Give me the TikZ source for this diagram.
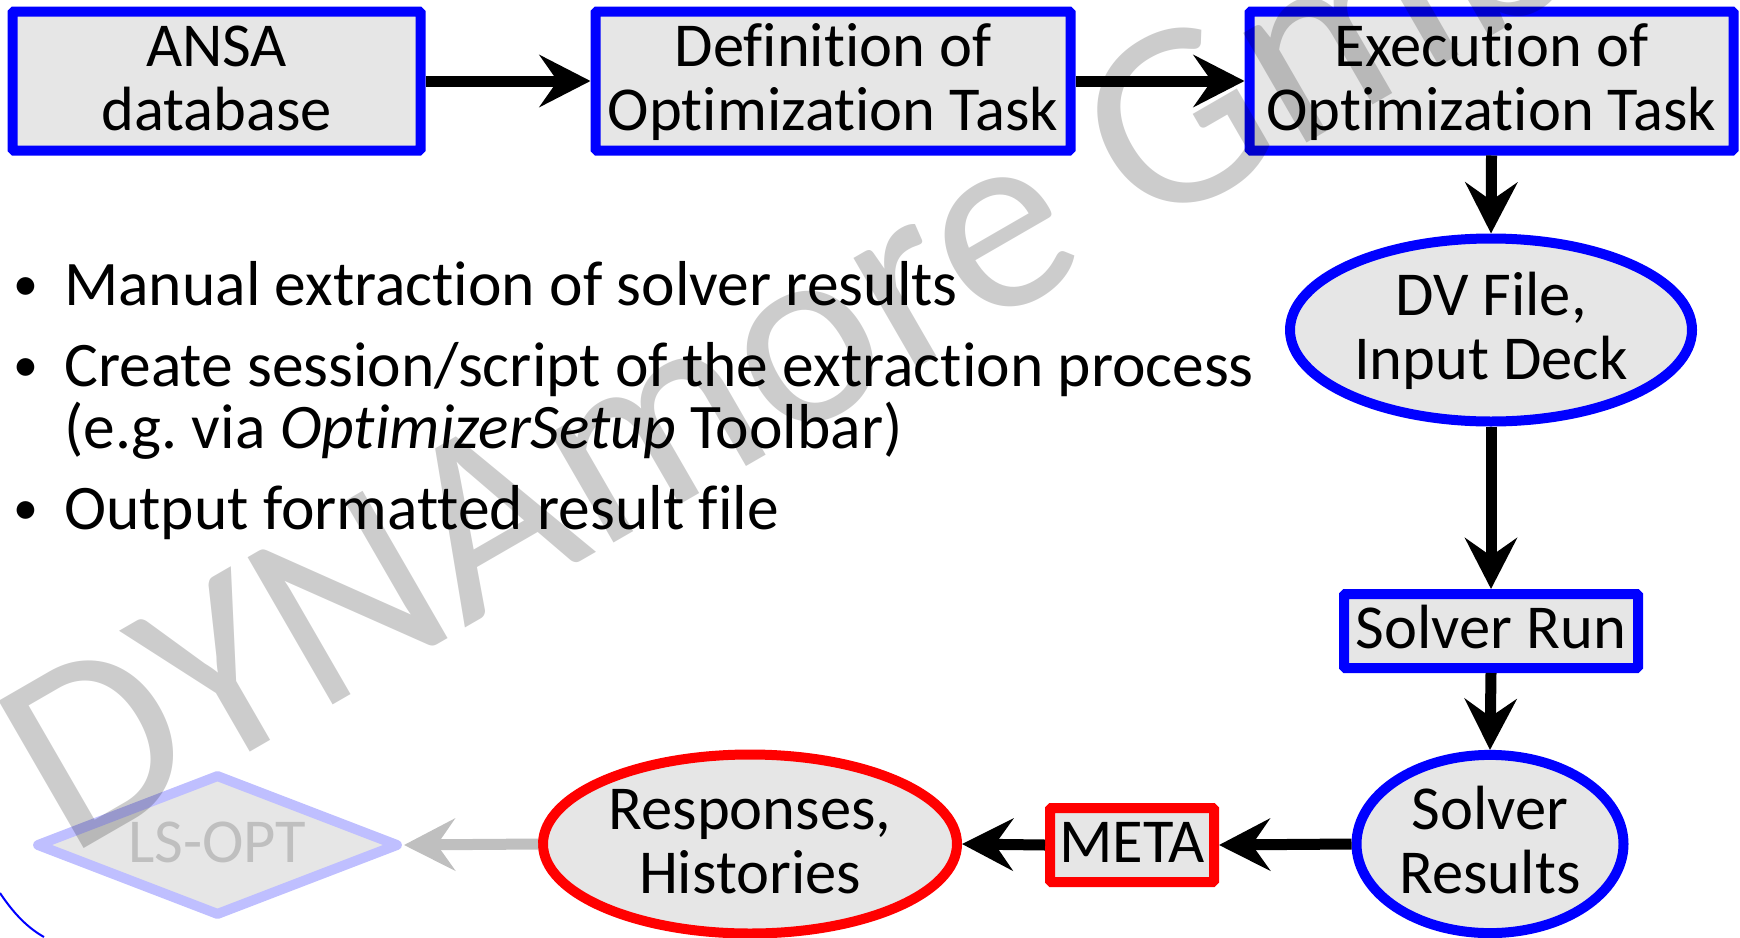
\documentclass[tikz,border=0pt]{standalone}
\usepackage{fontspec}
\setmainfont{Carlito}[Ligatures=NoCommon]
\usetikzlibrary{shapes.geometric,arrows.meta}
\definecolor{boxfill}{RGB}{230,230,230}
\definecolor{bblue}{RGB}{0,0,255}
\definecolor{bred}{RGB}{255,0,0}
\definecolor{lblue}{RGB}{191,191,255}
\definecolor{lgray}{RGB}{191,191,191}
\newcommand{\fs}{\rule{0pt}{48pt}}
\newcommand{\bul}{\raisebox{5pt}{\fontsize{50}{50}\selectfont •}}
\frenchspacing
\begin{document}
\begin{tikzpicture}[x=1pt,y=-1pt,
  nodebase/.style={font=\fontsize{62.5}{64}\selectfont, align=center, text depth=14pt, inner sep=0pt, fill=boxfill, line width=10pt},
  bluebox/.style={nodebase, rectangle, draw=bblue, rounded corners=1.5pt},
  blueell/.style={nodebase, ellipse, draw=bblue},
  redbox/.style={nodebase, rectangle, draw=bred, rounded corners=1.5pt},
  redell/.style={nodebase, ellipse, draw=bred},
  flow/.style={line width=11pt, -{Stealth[length=51pt,width=52pt,inset=18pt]}},
  bullettext/.style={font=\fontsize{63.5}{63.5}\selectfont, anchor=base west, inner sep=0pt},
]
\useasboundingbox (0,0) rectangle (1740,937);
\clip (0,0) rectangle (1740,937);

\node[bluebox, minimum width=408pt, minimum height=139pt] (ansa) at (216.5,81) {\fs ANSA\\database};
\node[bluebox, minimum width=475pt, minimum height=139pt] (def) at (833,81) {\fs Definition of\\Optimization Task};
\node[bluebox, minimum width=484pt, minimum height=139pt] (exe) at (1491.5,81) {\fs Execution of\\Optimization Task};
\node[blueell, minimum width=402pt, minimum height=183pt] (dv) at (1491,330) {\fs DV File,\\Input Deck};
\node[bluebox, minimum width=294pt, minimum height=74pt] (run) at (1491,631) {\fs Solver Run};
\node[blueell, minimum width=267pt, minimum height=177pt] (res) at (1490,844) {\fs Solver\\Results};
\node[redbox, minimum width=164pt, minimum height=74pt] (meta) at (1132,845) {\fs META};
\node[redell, minimum width=414pt, minimum height=179pt] (resp) at (750,844) {\fs Responses,\\Histories};
\node[nodebase, diamond, draw=lblue, text=lgray, line join=round, minimum width=363pt, minimum height=142pt, aspect=2.56] (lsopt) at (217.5,845) {\fs LS-OPT};

\draw[flow] (ansa.east) -- (def.west);
\draw[flow] (def.east) -- (exe.west);
\draw[flow] (exe.south) -- (dv.north);
\draw[flow] (dv.south) -- (run.north);
\draw[flow] (run.south) -- (res.north);
\draw[flow] (res.west) -- (meta.east);
\draw[flow] (meta.west) -- (resp.east);
\draw[flow, draw=lgray, fill=lgray] (resp.west) -- (lsopt.east);

\node[bullettext] (b1) at (13,305) {\bul};
\node[bullettext] (t1) at (64,305) {Manual extraction of solver results};
\node[bullettext] (b2) at (13,386) {\bul};
\node[bullettext] (t2) at (64,386) {Create session/script of the extraction process};
\node[bullettext] (t2b) at (64,448) {(e.g. via \textit{OptimizerSetup} Toolbar)};
\node[bullettext] (b3) at (13,529) {\bul};
\node[bullettext] (t3) at (64,529) {Output formatted result file};

\draw[bblue, line width=2pt] (0,893) .. controls (14,914) and (28,928) .. (44,937);

\node[font=\fontsize{265}{265}\selectfont, text=black, text opacity=0.2, anchor=base west, inner sep=0pt, rotate=30] (wm) at (68,858) {DYNAmore GmbH};
\end{tikzpicture}
\end{document}
